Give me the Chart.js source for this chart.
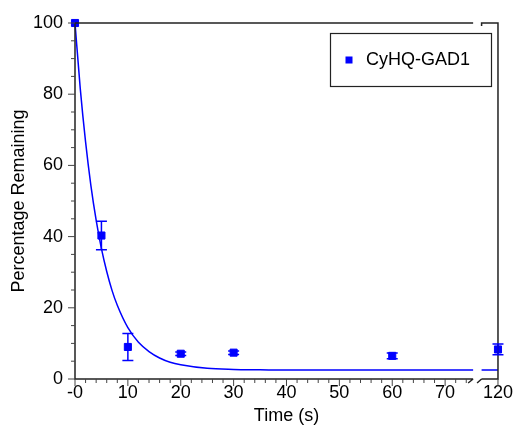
<!DOCTYPE html>
<html>
<head>
<meta charset="utf-8">
<title>CyHQ-GAD1</title>
<script src="https://cdn.jsdelivr.net/npm/chart.js@4/dist/chart.umd.min.js"></script>
<style>
  html, body { margin: 0; padding: 0; background: #fff; }
  canvas { display: block; }
</style>
</head>
<body>
<canvas id="chart" width="516" height="427"></canvas>
<script>
// measured points
const timeSec = [0, 5, 10, 20, 30, 60, 120];
const remaining = [100, 40.3, 9.0, 7.1, 7.4, 6.5, 8.3];
const errBar = [0, 4.0, 3.8, 0.5, 0.5, 0.8, 1.5];

// fitted curve (null = axis break)
const fitTime = [0, 1, 2, 3, 4, 5, 6, 7, 8, 10, 12, 14, 16, 18, 20, 25, 30, 35, 40, 50, 60, 70, 75.3, 76, 116.9, 120];
const fitVal = [100, 81.5, 66.6, 54.4, 44.6, 36.6, 30.2, 24.9, 20.7, 14.4, 10.3, 7.7, 5.9, 4.7, 4.0, 3.0, 2.7, 2.6, 2.5, 2.5, 2.5, 2.5, 2.5, null, 2.5, 2.5];

const xTickVals = [0, 10, 20, 30, 40, 50, 60, 70, 120];
const xTickLabels = ['-0', '10', '20', '30', '40', '50', '60', '70', '120'];
const yTickVals = [0, 20, 40, 60, 80, 100];

const seriesName = 'CyHQ-GAD1';
const BLUE = '#0000ff';
const INK = '#222';

// broken x axis: 0..75.3 then 116.9..120
const BREAK_LO = 75.3, BREAK_HI = 116.9, SHIFT = 40;
const toAxis = (t) => (t > BREAK_LO ? t - SHIFT : t);

const FONT = { family: '"Liberation Sans", Arial, sans-serif', size: 18 };

const axesPlugin = {
  id: 'axes',
  afterDatasetsDraw(chart) {
    const { ctx, chartArea: a, scales: { x, y } } = chart;
    const lo = x.getPixelForValue(BREAK_LO);
    const hi = x.getPixelForValue(BREAK_HI - SHIFT);
    ctx.save();
    ctx.strokeStyle = INK;
    ctx.lineWidth = 1.5;
    ctx.beginPath();
    // left + bottom
    ctx.moveTo(a.left, a.top); ctx.lineTo(a.left, a.bottom); ctx.lineTo(lo, a.bottom);
    ctx.moveTo(hi, a.bottom); ctx.lineTo(a.right, a.bottom); ctx.lineTo(a.right, a.top);
    ctx.lineTo(hi, a.top); ctx.lineTo(hi, a.top + 3);
    ctx.moveTo(lo, a.top); ctx.lineTo(a.left, a.top);
    // break slashes
    ctx.moveTo(lo - 5, a.bottom + 4); ctx.lineTo(lo, a.bottom);
    ctx.moveTo(hi - 4.5, a.bottom + 4); ctx.lineTo(hi, a.bottom);
    ctx.stroke();

    ctx.lineWidth = 1;
    ctx.strokeStyle = '#444';
    ctx.beginPath();
    // x ticks
    for (let v = 0; v <= 74; v += 2) {
      const px = x.getPixelForValue(v);
      const len = v % 10 === 0 ? 7 : 4;
      ctx.moveTo(px, a.bottom); ctx.lineTo(px, a.bottom + len);
    }
    const p120 = x.getPixelForValue(toAxis(120));
    ctx.moveTo(p120, a.bottom); ctx.lineTo(p120, a.bottom + 7);
    // y ticks
    for (let v = 0; v <= 100; v += 5) {
      const py = y.getPixelForValue(v);
      const len = v % 20 === 0 ? 7 : 4;
      ctx.moveTo(a.left, py); ctx.lineTo(a.left - len, py);
    }
    ctx.stroke();
    ctx.restore();
  },
};

const errorPlugin = {
  id: 'errorBars',
  afterDatasetsDraw(chart) {
    const { ctx, scales: { x, y } } = chart;
    ctx.save();
    ctx.strokeStyle = BLUE;
    ctx.lineWidth = 1.5;
    ctx.beginPath();
    timeSec.forEach((t, i) => {
      if (!errBar[i]) return;
      const px = x.getPixelForValue(toAxis(t));
      const top = y.getPixelForValue(remaining[i] + errBar[i]);
      const bot = y.getPixelForValue(remaining[i] - errBar[i]);
      ctx.moveTo(px, top); ctx.lineTo(px, bot);
      ctx.moveTo(px - 5.5, top); ctx.lineTo(px + 5.5, top);
      ctx.moveTo(px - 5.5, bot); ctx.lineTo(px + 5.5, bot);
    });
    ctx.stroke();
    ctx.restore();
  },
};

const legendPlugin = {
  id: 'boxLegend',
  afterDraw(chart) {
    const { ctx } = chart;
    ctx.save();
    ctx.strokeStyle = INK;
    ctx.lineWidth = 1.2;
    ctx.strokeRect(330.5, 33.5, 161, 53);
    ctx.fillStyle = BLUE;
    ctx.fillRect(345.5, 56.5, 7, 7);
    ctx.fillStyle = '#000';
    ctx.font = `${FONT.size}px ${FONT.family}`;
    ctx.textBaseline = 'middle';
    ctx.fillText(seriesName, 366, 60);
    ctx.restore();
  },
};

new Chart(document.getElementById('chart'), {
  data: {
    datasets: [
      {
        type: 'scatter',
        label: seriesName,
        data: timeSec.map((t, i) => ({ x: toAxis(t), y: remaining[i] })),
        pointStyle: 'rect',
        pointRadius: 5,
        borderWidth: 1,
        backgroundColor: BLUE,
        borderColor: BLUE,
        clip: false,
        order: 0,
      },
      {
        type: 'line',
        label: 'fit',
        data: fitTime.map((t, i) => ({ x: toAxis(t), y: fitVal[i] })),
        borderColor: BLUE,
        borderWidth: 1.5,
        pointRadius: 0,
        cubicInterpolationMode: 'monotone',
        spanGaps: false,
        clip: false,
        order: 1,
      },
    ],
  },
  options: {
    responsive: false,
    animation: false,
    layout: { padding: { top: 23, right: 16, left: 0, bottom: 0 } },
    plugins: { legend: { display: false }, tooltip: { enabled: false } },
    scales: {
      x: {
        type: 'linear',
        min: 0,
        max: 80,
        afterFit: (s) => { s.height = 48; },
        afterBuildTicks: (s) => { s.ticks = xTickVals.map(v => ({ value: toAxis(v) })); },
        ticks: {
          autoSkip: false,
          maxRotation: 0,
          padding: 3,
          color: '#000',
          font: FONT,
          callback: (v) => xTickLabels[xTickVals.map(toAxis).indexOf(v)],
        },
        grid: { display: false, drawTicks: false },
        border: { display: false },
        title: { display: true, text: 'Time (s)', color: '#000', font: FONT, padding: { top: 6, bottom: 0 } },
      },
      y: {
        min: 0,
        max: 100,
        afterFit: (s) => { s.width = 75; },
        afterBuildTicks: (s) => { s.ticks = yTickVals.map(v => ({ value: v })); },
        ticks: { padding: 12, color: '#000', font: FONT },
        grid: { display: false, drawTicks: false },
        border: { display: false },
        title: { display: true, text: 'Percentage Remaining', color: '#000', font: FONT, padding: { top: 8, bottom: 0 } },
      },
    },
  },
  plugins: [axesPlugin, errorPlugin, legendPlugin],
});
</script>
</body>
</html>
